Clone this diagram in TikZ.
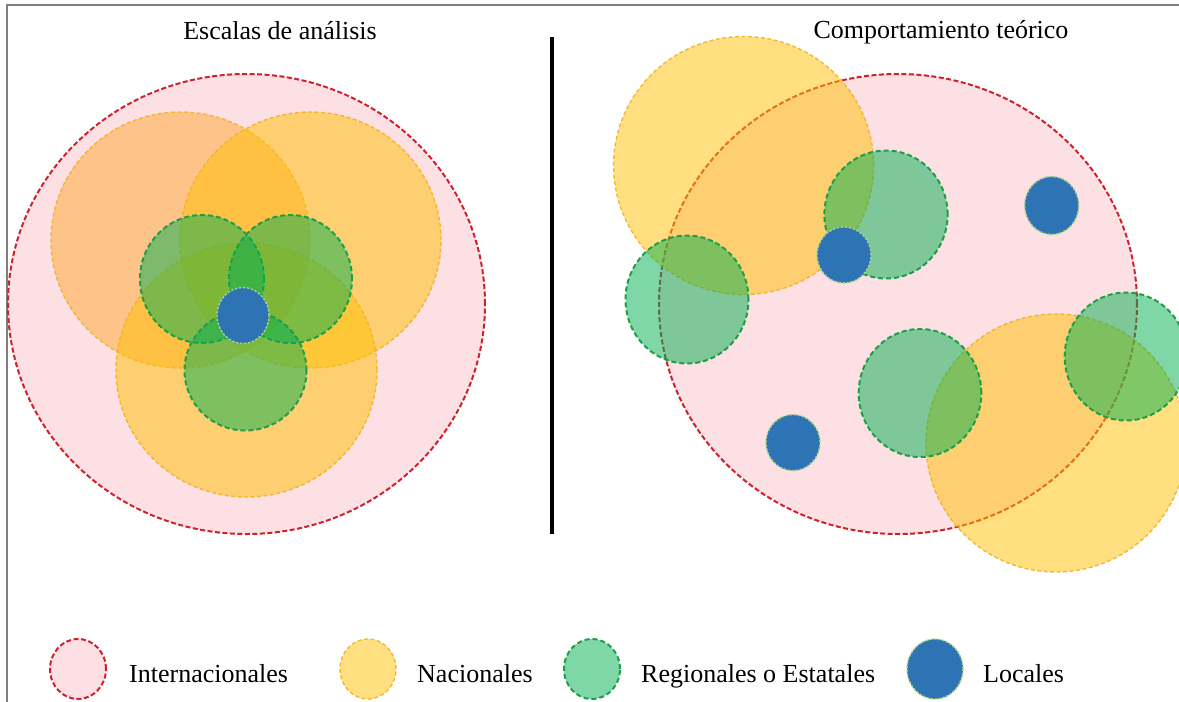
\documentclass[tikz,border=0pt]{standalone}
\usepackage{fontspec}
\setmainfont{Liberation Serif}
\definecolor{pinkfill}{HTML}{FCE0E3}
\definecolor{redline}{HTML}{D0202E}
\definecolor{gold}{HTML}{FFC000}
\definecolor{goldtl}{HTML}{FFA830}
\definecolor{orangeline}{HTML}{F0B428}
\definecolor{regg}{HTML}{00B050}
\definecolor{greenline}{HTML}{1E9E48}
\definecolor{bluefill}{HTML}{2E74B5}
\definecolor{bluebord}{HTML}{A8D08D}
\definecolor{framegray}{HTML}{7F7F7F}
\begin{document}
\begin{tikzpicture}[x=1pt,y=-1pt,
  intl/.style={fill=pinkfill, draw=redline, line width=2pt, dash pattern=on 5pt off 2.5pt},
  nac/.style={fill=gold, fill opacity=0.5, draw=orangeline, draw opacity=0.9, line width=1.4pt, dash pattern=on 4pt off 2.5pt},
  nactl/.style={nac, fill=goldtl},
  reg/.style={fill=regg, fill opacity=0.5, draw=greenline, line width=2pt, dash pattern=on 5pt off 3pt},
  loc/.style={fill=bluefill, draw=bluebord, line width=1.4pt, dash pattern=on 2.5pt off 1.5pt},
  lbl/.style={font=\fontsize{26}{30}\selectfont, anchor=base west, inner sep=0pt},
  ttl/.style={font=\fontsize{26}{30}\selectfont, anchor=base, inner sep=0pt}]
\useasboundingbox (0,0) rectangle (1179,702);
% frame
\draw[framegray, line width=1.3pt] (7,702) -- (7,5) -- (1179,5);
% titles
\node[ttl] (t1) at (280,39.5) {Escalas de análisis};
\node[ttl] (t2) at (941,38.3) {Comportamiento teórico};
% separator
\draw[line width=4pt] (552,37) -- (552,534);
% ---- left panel ----
\draw[intl] (246.5,304) ellipse [x radius=238.5pt, y radius=230pt];
\draw[nactl] (180.5,240) ellipse [x radius=129.5pt, y radius=128pt];
\draw[nac] (310.5,240) ellipse [x radius=130.5pt, y radius=128pt];
\draw[nac] (246.5,370) ellipse [x radius=130.5pt, y radius=127pt];
\draw[reg] (202,279) ellipse [x radius=62pt, y radius=64pt];
\draw[reg] (290.5,279) ellipse [x radius=61.5pt, y radius=64pt];
\draw[reg] (245.5,370.5) ellipse [x radius=61pt, y radius=60pt];
\draw[loc] (243,315.5) ellipse [x radius=26pt, y radius=28pt];
% ---- right panel ----
\draw[intl] (898,304) ellipse [x radius=239pt, y radius=230pt];
\draw[nac] (743.6,165.5) ellipse [x radius=130pt, y radius=129pt];
\draw[nac] (1056,443) ellipse [x radius=130pt, y radius=129pt];
\draw[reg] (886,214.5) ellipse [x radius=61.6pt, y radius=64pt];
\draw[reg] (687,299.5) ellipse [x radius=61.5pt, y radius=64pt];
\draw[reg] (920,393) ellipse [x radius=61.3pt, y radius=64pt];
\draw[reg] (1126,356.5) ellipse [x radius=61.3pt, y radius=64pt];
\draw[loc] (844,255) ellipse [x radius=27pt, y radius=28pt];
\draw[loc] (1051.7,205.5) ellipse [x radius=27pt, y radius=29pt];
\draw[loc] (793,442.6) ellipse [x radius=27pt, y radius=28pt];
% ---- legend ----
\draw[intl] (78,669) ellipse [x radius=28pt, y radius=30pt];
\node[lbl] (l1) at (129,682) {Internacionales};
\draw[nac] (368,669) ellipse [x radius=28pt, y radius=30pt];
\node[lbl] (l2) at (417,682) {Nacionales};
\draw[reg] (592,669) ellipse [x radius=28pt, y radius=30pt];
\node[lbl] (l3) at (641,682) {Regionales o Estatales};
\draw[loc] (935,669) ellipse [x radius=28pt, y radius=30pt];
\node[lbl] (l4) at (983,682) {Locales};
\end{tikzpicture}
\end{document}
